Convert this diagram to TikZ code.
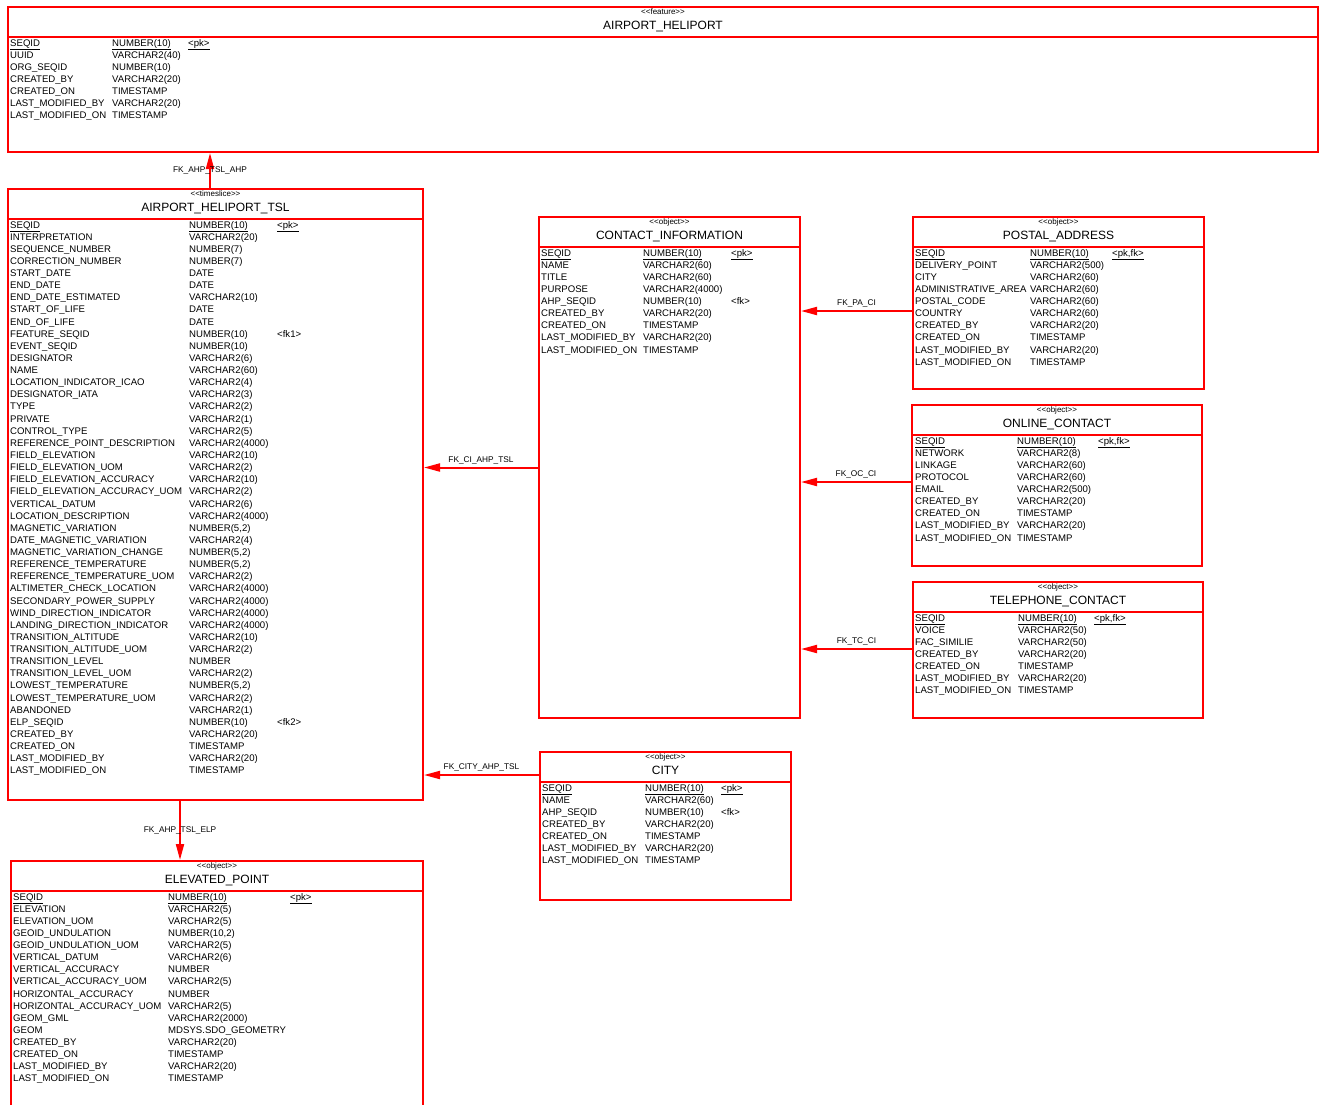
\documentclass[tikz,border=0pt]{standalone}
\usepackage{fontspec}
\setmainfont{Liberation Sans}
\usetikzlibrary{positioning,arrows.meta}

\definecolor{erred}{RGB}{255,0,0}

\newcommand{\rowsep}{12.13}
\newcommand{\stype}[1]{<\kern0pt<#1>\kern0pt>}

% one row of fields per list item: name/type
\newcommand{\erfields}[5]{%
  \foreach \fname/\ftype [count=\i from 0] in {#5} {
    \node[field] (#1n\i) at (#2,#4+\rowsep*\i) {\fname};
    \node[field] (#1t\i) at (#3,#4+\rowsep*\i) {\ftype};
  }}

\tikzset{
  tbl/.style={draw=erred, line width=2pt, anchor=north west, inner sep=0pt},
  hdr/.style={draw=erred, line width=2pt, anchor=north west, inner sep=0pt, minimum height=29.5},
  stereo/.style={font=\fontsize{8}{9}\selectfont, anchor=base, inner sep=0pt},
  ttl/.style={font=\fontsize{12}{14}\selectfont, anchor=base, inner sep=0pt},
  field/.style={font=\fontsize{9.6}{11}\selectfont, anchor=base west, inner sep=0pt},
  fklbl/.style={font=\fontsize{8.3}{9}\selectfont, inner sep=0pt},
  fk/.style={draw=erred, line width=2pt, -{Triangle[length=16pt, width=8pt]}}
}

\begin{document}
\catcode`\_=12
\begin{tikzpicture}[x=1pt, y=-1pt]
  \clip (0,0) rectangle (1322,1104);

  % AIRPORT_HELIPORT
  \node[tbl, minimum width=1310, minimum height=145] (ah) at (7,6) {};
  \node[hdr, minimum width=1310] (ahh) at (7,6) {};
  \node[stereo] (ahs) at ([yshift=-8.3]ahh.north) {\stype{feature}};
  \node[ttl] (aht) at ([yshift=-23.6]ahh.north) {AIRPORT_HELIPORT};
  \erfields{ah}{10}{112}{46}{\underline{SEQID}/\underline{NUMBER(10)}, UUID/VARCHAR2(40),
    ORG_SEQID/NUMBER(10), CREATED_BY/VARCHAR2(20), CREATED_ON/TIMESTAMP,
    LAST_MODIFIED_BY/VARCHAR2(20), LAST_MODIFIED_ON/TIMESTAMP}
  \node[field] (ahk0) at (188,0 |- aht0.base) {\underline{<pk>}};

  % AIRPORT_HELIPORT_TSL
  \node[tbl, minimum width=415, minimum height=611] (tsl) at (7,188) {};
  \node[hdr, minimum width=415] (tslh) at (7,188) {};
  \node[stereo] (tsls) at ([yshift=-8.3]tslh.north) {\stype{timeslice}};
  \node[ttl] (tslt) at ([yshift=-23.6]tslh.north) {AIRPORT_HELIPORT_TSL};
  \erfields{tsl}{10}{189}{228}{\underline{SEQID}/\underline{NUMBER(10)},
    INTERPRETATION/VARCHAR2(20), SEQUENCE_NUMBER/NUMBER(7), CORRECTION_NUMBER/NUMBER(7),
    START_DATE/DATE, END_DATE/DATE, END_DATE_ESTIMATED/VARCHAR2(10),
    START_OF_LIFE/DATE, END_OF_LIFE/DATE, FEATURE_SEQID/NUMBER(10),
    EVENT_SEQID/NUMBER(10), DESIGNATOR/VARCHAR2(6), NAME/VARCHAR2(60),
    LOCATION_INDICATOR_ICAO/VARCHAR2(4), DESIGNATOR_IATA/VARCHAR2(3),
    TYPE/VARCHAR2(2), PRIVATE/VARCHAR2(1), CONTROL_TYPE/VARCHAR2(5),
    REFERENCE_POINT_DESCRIPTION/VARCHAR2(4000), FIELD_ELEVATION/VARCHAR2(10),
    FIELD_ELEVATION_UOM/VARCHAR2(2), FIELD_ELEVATION_ACCURACY/VARCHAR2(10),
    FIELD_ELEVATION_ACCURACY_UOM/VARCHAR2(2), VERTICAL_DATUM/VARCHAR2(6),
    LOCATION_DESCRIPTION/VARCHAR2(4000), MAGNETIC_VARIATION/NUMBER(5{,}2),
    DATE_MAGNETIC_VARIATION/VARCHAR2(4), MAGNETIC_VARIATION_CHANGE/NUMBER(5{,}2),
    REFERENCE_TEMPERATURE/NUMBER(5{,}2), REFERENCE_TEMPERATURE_UOM/VARCHAR2(2),
    ALTIMETER_CHECK_LOCATION/VARCHAR2(4000), SECONDARY_POWER_SUPPLY/VARCHAR2(4000),
    WIND_DIRECTION_INDICATOR/VARCHAR2(4000), LANDING_DIRECTION_INDICATOR/VARCHAR2(4000),
    TRANSITION_ALTITUDE/VARCHAR2(10), TRANSITION_ALTITUDE_UOM/VARCHAR2(2),
    TRANSITION_LEVEL/NUMBER, TRANSITION_LEVEL_UOM/VARCHAR2(2),
    LOWEST_TEMPERATURE/NUMBER(5{,}2), LOWEST_TEMPERATURE_UOM/VARCHAR2(2),
    ABANDONED/VARCHAR2(1), ELP_SEQID/NUMBER(10), CREATED_BY/VARCHAR2(20),
    CREATED_ON/TIMESTAMP, LAST_MODIFIED_BY/VARCHAR2(20), LAST_MODIFIED_ON/TIMESTAMP}
  \node[field] (tslk0) at (277,0 |- tslt0.base) {\underline{<pk>}};
  \node[field] (tslk9) at (277,0 |- tslt9.base) {<fk1>};
  \node[field] (tslk41) at (277,0 |- tslt41.base) {<fk2>};

  % ELEVATED_POINT
  \node[tbl, minimum width=412, minimum height=270] (elp) at (10,860) {};
  \node[hdr, minimum width=412] (elph) at (10,860) {};
  \node[stereo] (elps) at ([yshift=-8.3]elph.north) {\stype{object}};
  \node[ttl] (elpt) at ([yshift=-23.6]elph.north) {ELEVATED_POINT};
  \erfields{elp}{13}{168}{900}{\underline{SEQID}/\underline{NUMBER(10)},
    ELEVATION/VARCHAR2(5), ELEVATION_UOM/VARCHAR2(5), GEOID_UNDULATION/NUMBER(10{,}2),
    GEOID_UNDULATION_UOM/VARCHAR2(5), VERTICAL_DATUM/VARCHAR2(6),
    VERTICAL_ACCURACY/NUMBER, VERTICAL_ACCURACY_UOM/VARCHAR2(5),
    HORIZONTAL_ACCURACY/NUMBER, HORIZONTAL_ACCURACY_UOM/VARCHAR2(5),
    GEOM_GML/VARCHAR2(2000), GEOM/MDSYS.SDO_GEOMETRY, CREATED_BY/VARCHAR2(20),
    CREATED_ON/TIMESTAMP, LAST_MODIFIED_BY/VARCHAR2(20), LAST_MODIFIED_ON/TIMESTAMP}
  \node[field] (elpk0) at (290,0 |- elpt0.base) {\underline{<pk>}};

  % CONTACT_INFORMATION
  \node[tbl, minimum width=261, minimum height=501] (ci) at (538,216) {};
  \node[hdr, minimum width=261] (cih) at (538,216) {};
  \node[stereo] (cis) at ([yshift=-8.3]cih.north) {\stype{object}};
  \node[ttl] (cit) at ([yshift=-23.6]cih.north) {CONTACT_INFORMATION};
  \erfields{ci}{541}{643}{256}{\underline{SEQID}/\underline{NUMBER(10)},
    NAME/VARCHAR2(60), TITLE/VARCHAR2(60), PURPOSE/VARCHAR2(4000),
    AHP_SEQID/NUMBER(10), CREATED_BY/VARCHAR2(20), CREATED_ON/TIMESTAMP,
    LAST_MODIFIED_BY/VARCHAR2(20), LAST_MODIFIED_ON/TIMESTAMP}
  \node[field] (cik0) at (731,0 |- cit0.base) {\underline{<pk>}};
  \node[field] (cik4) at (731,0 |- cit4.base) {<fk>};

  % POSTAL_ADDRESS
  \node[tbl, minimum width=291, minimum height=172] (pa) at (912,216) {};
  \node[hdr, minimum width=291] (pah) at (912,216) {};
  \node[stereo] (pas) at ([yshift=-8.3]pah.north) {\stype{object}};
  \node[ttl] (pat) at ([yshift=-23.6]pah.north) {POSTAL_ADDRESS};
  \erfields{pa}{915}{1030}{256}{\underline{SEQID}/\underline{NUMBER(10)},
    DELIVERY_POINT/VARCHAR2(500), CITY/VARCHAR2(60), ADMINISTRATIVE_AREA/VARCHAR2(60),
    POSTAL_CODE/VARCHAR2(60), COUNTRY/VARCHAR2(60), CREATED_BY/VARCHAR2(20),
    CREATED_ON/TIMESTAMP, LAST_MODIFIED_BY/VARCHAR2(20), LAST_MODIFIED_ON/TIMESTAMP}
  \node[field] (pak0) at (1112,0 |- pat0.base) {\underline{<pk,fk>}};

  % ONLINE_CONTACT
  \node[tbl, minimum width=290, minimum height=161] (oc) at (911,404) {};
  \node[hdr, minimum width=290] (och) at (911,404) {};
  \node[stereo] (ocs) at ([yshift=-8.3]och.north) {\stype{object}};
  \node[ttl] (oct) at ([yshift=-23.6]och.north) {ONLINE_CONTACT};
  \erfields{oc}{915}{1017}{444}{\underline{SEQID}/\underline{NUMBER(10)},
    NETWORK/VARCHAR2(8), LINKAGE/VARCHAR2(60), PROTOCOL/VARCHAR2(60),
    EMAIL/VARCHAR2(500), CREATED_BY/VARCHAR2(20), CREATED_ON/TIMESTAMP,
    LAST_MODIFIED_BY/VARCHAR2(20), LAST_MODIFIED_ON/TIMESTAMP}
  \node[field] (ock0) at (1098,0 |- oct0.base) {\underline{<pk,fk>}};

  % TELEPHONE_CONTACT
  \node[tbl, minimum width=290, minimum height=136] (tc) at (912,581) {};
  \node[hdr, minimum width=290] (tch) at (912,581) {};
  \node[stereo] (tcs) at ([yshift=-8.3]tch.north) {\stype{object}};
  \node[ttl] (tct) at ([yshift=-23.6]tch.north) {TELEPHONE_CONTACT};
  \erfields{tc}{915}{1018}{621}{\underline{SEQID}/\underline{NUMBER(10)},
    VOICE/VARCHAR2(50), FAC_SIMILIE/VARCHAR2(50), CREATED_BY/VARCHAR2(20),
    CREATED_ON/TIMESTAMP, LAST_MODIFIED_BY/VARCHAR2(20), LAST_MODIFIED_ON/TIMESTAMP}
  \node[field] (tck0) at (1094,0 |- tct0.base) {\underline{<pk,fk>}};

  % CITY
  \node[tbl, minimum width=251, minimum height=148] (city) at (539,751) {};
  \node[hdr, minimum width=251] (cityh) at (539,751) {};
  \node[stereo] (citys) at ([yshift=-8.3]cityh.north) {\stype{object}};
  \node[ttl] (cityt) at ([yshift=-23.6]cityh.north) {CITY};
  \erfields{city}{542}{645}{791}{\underline{SEQID}/\underline{NUMBER(10)},
    NAME/VARCHAR2(60), AHP_SEQID/NUMBER(10), CREATED_BY/VARCHAR2(20),
    CREATED_ON/TIMESTAMP, LAST_MODIFIED_BY/VARCHAR2(20), LAST_MODIFIED_ON/TIMESTAMP}
  \node[field] (cityk0) at (721,0 |- cityt0.base) {\underline{<pk>}};
  \node[field] (cityk2) at (721,0 |- cityt2.base) {<fk>};

  % Foreign keys
  \coordinate (ahpfoot) at ([xshift=-5.5]tsl.north);
  \coordinate (elpfoot) at ([xshift=-35.5]tsl.south);
  \coordinate (cityfoot) at ([yshift=51]city.west);
  \coordinate (pafoot) at ([yshift=-8]pa.west);
  \coordinate (ocfoot) at ([yshift=3.5]oc.west);
  \coordinate (tcfoot) at ([yshift=1]tc.west);

  \draw[fk] (ahpfoot) -- (ahpfoot |- ah.south) node[fklbl, midway] (lahp) {FK_AHP_TSL_AHP};
  \draw[fk] (elpfoot) -- (elpfoot |- elp.north) node[fklbl, midway] (lelp) {FK_AHP_TSL_ELP};
  \draw[fk] (ci.west) -- (ci.west -| tsl.east) node[fklbl, midway, above=2.5pt] (lci) {FK_CI_AHP_TSL};
  \draw[fk] (cityfoot) -- (cityfoot -| tsl.east) node[fklbl, midway, above=2.5pt] (lcity) {FK_CITY_AHP_TSL};
  \draw[fk] (pafoot) -- (pafoot -| ci.east) node[fklbl, midway, above=2.5pt] (lpa) {FK_PA_CI};
  \draw[fk] (ocfoot) -- (ocfoot -| ci.east) node[fklbl, midway, above=2.5pt] (loc) {FK_OC_CI};
  \draw[fk] (tcfoot) -- (tcfoot -| ci.east) node[fklbl, midway, above=2.5pt] (ltc) {FK_TC_CI};
\end{tikzpicture}
\end{document}
